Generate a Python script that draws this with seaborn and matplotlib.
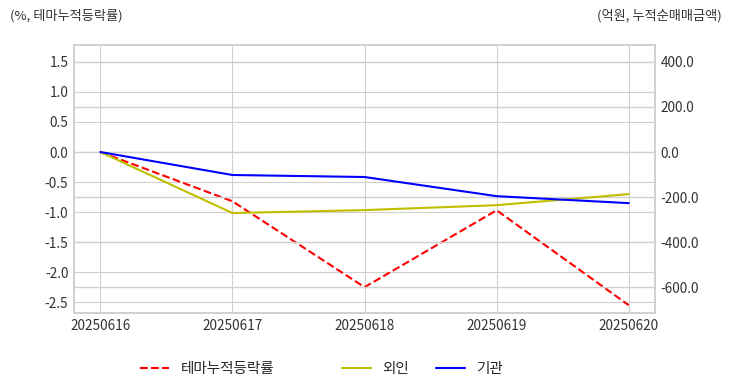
import pandas as pd
import seaborn as sns
import matplotlib.pyplot as plt
from matplotlib.ticker import FormatStrFormatter

# data
dates = ["20250616", "20250617", "20250618", "20250619", "20250620"]
theme_rate = [0.0, -0.82, -2.25, -0.97, -2.55]      # %, left axis
foreign = [0.0, -271, -258, -236, -187]              # 억원, right axis
institution = [0.0, -102, -111, -196, -227]          # 억원, right axis

df = pd.DataFrame({"date": dates, "theme": theme_rate,
                   "foreign": foreign, "inst": institution})
df["x"] = range(len(df))

sns.set_style("whitegrid", {"grid.color": "#d0d0d0", "axes.edgecolor": "#d0d0d0"})
plt.rcParams["font.family"] = ["Noto Sans CJK KR", "DejaVu Sans"]

fig = plt.figure(figsize=(7.32, 3.92), dpi=100)
ax = fig.add_axes([0.101, 0.2015, 0.794, 0.6835])
ax2 = ax.twinx()

sns.lineplot(data=df, x="x", y="theme", ax=ax, color="red", linestyle="--",
             linewidth=1.5, label="테마누적등락률", legend=False)
sns.lineplot(data=df, x="x", y="foreign", ax=ax2, color=(0.75, 0.75, 0),
             linewidth=1.5, label="외인", legend=False)
sns.lineplot(data=df, x="x", y="inst", ax=ax2, color="blue",
             linewidth=1.5, label="기관", legend=False)

ax.set_xlim(-0.2, 4.2)
ax.set_ylim(-2.68, 1.78)
ax2.set_ylim(-715, 475)
ax.set_yticks([1.5, 1.0, 0.5, 0.0, -0.5, -1.0, -1.5, -2.0, -2.5])
ax2.set_yticks([400, 200, 0, -200, -400, -600])
ax.yaxis.set_major_formatter(FormatStrFormatter("%.1f"))
ax2.yaxis.set_major_formatter(FormatStrFormatter("%.1f"))
ax.set_xticks(df["x"])
ax.set_xticklabels(dates)
ax.set_xlabel("")
ax.set_ylabel("")
ax2.set_ylabel("")

ax2.grid(True, color="#d0d0d0", linewidth=1)
ax2.xaxis.grid(False)
for a in (ax, ax2):
    a.tick_params(axis="both", labelsize=9.8, labelcolor="#333333", length=0, pad=4)
    for s in a.spines.values():
        s.set_color("#d0d0d0")
        s.set_linewidth(1.2)

fig.text(0.014, 0.96, "(%, 테마누적등락률)", fontsize=9.5, color="#333333", va="center")
fig.text(0.986, 0.96, "(억원, 누적순매매금액)", fontsize=9.5, color="#333333",
         va="center", ha="right")

h1, l1 = ax.get_legend_handles_labels()
h2, l2 = ax2.get_legend_handles_labels()
leg_kw = dict(frameon=False, fontsize=10.5, handlelength=2.0, handletextpad=0.8,
              borderpad=0, borderaxespad=0)
fig.legend(h1, l1, loc="center left", bbox_to_anchor=(0.191, 0.058), **leg_kw)
fig.legend(h2, l2, loc="center left", bbox_to_anchor=(0.467, 0.058), ncol=2,
           columnspacing=1.8, **leg_kw)

fig.savefig("out.png", dpi=100)
